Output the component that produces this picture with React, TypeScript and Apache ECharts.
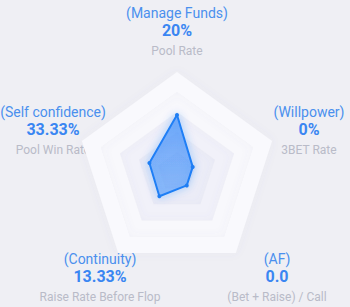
import React, { useEffect, useRef } from "react";
import * as echarts from "echarts";

const indicatorNames = ["(Manage Funds)", "(Self confidence)", "(Continuity)", "(AF)", "(Willpower)"];
const displayValues = ["20%", "33.33%", "13.33%", "0.0", "0%"];
const subtitles = ["Pool Rate", "Pool Win Rate", "Raise Rate Before Flop", "(Bet + Raise) / Call", "3BET Rate"];
const scores = [57, 29, 30, 16.6, 16.5];
const indicatorMax = 100;

const labelPos: [number, number][] = [
  [177, 4],
  [53, 103],
  [100, 250],
  [277, 250],
  [309, 103],
];

export default function App() {
  const ref = useRef<HTMLDivElement>(null);
  useEffect(() => {
    if (!ref.current) return;
    const chart = echarts.init(ref.current, null, { renderer: "svg" });
    const graphics = indicatorNames.map((n, i) => ({
      type: "text",
      x: labelPos[i][0],
      y: labelPos[i][1],
      style: {
        text: `{n|${n}}\n{v|${displayValues[i]}}\n{s|${subtitles[i]}}`,
        align: "center",
        verticalAlign: "top",
        rich: {
          n: { fontSize: 14, fill: "#4a90ee", lineHeight: 17, fontFamily: "Roboto, sans-serif", align: "center" },
          v: { fontSize: 16, fontWeight: "bold", fill: "#3a86f2", lineHeight: 19, fontFamily: "'Liberation Sans Narrow', Roboto, sans-serif", align: "center" },
          s: { fontSize: 12, fill: "#b9bbc8", lineHeight: 21, fontFamily: "Roboto, sans-serif", align: "center" },
        },
      },
    }));
    chart.setOption({
      animation: false,
      backgroundColor: "#efeff4",
      radar: {
        center: [177, 172],
        radius: 100,
        shape: "polygon",
        splitNumber: 5,
        indicator: indicatorNames.map((n) => ({ name: n, max: indicatorMax, min: 0 })),
        axisName: { show: false },
        axisLine: { show: false },
        axisTick: { show: false },
        axisLabel: { show: false },
        splitLine: { show: false },
        splitArea: {
          show: true,
          areaStyle: {
            color: ["#e8e9f6", "#ecedf7", "#f1f1f9", "#f8f8fc", "#f9f9fd"],
            shadowColor: "rgba(120,120,170,0.05)",
            shadowBlur: 10,
          },
        },
      },
      graphic: graphics,
      series: [
        {
          type: "radar",
          symbol: "circle",
          symbolSize: 4,
          data: [
            {
              value: scores,
              itemStyle: { color: "#1f7ef3" },
              lineStyle: { color: "#1f7ef3", width: 2, shadowColor: "rgba(30,120,255,0.5)", shadowBlur: 8 },
              areaStyle: {
                color: new echarts.graphic.LinearGradient(0, 0, 0, 1, [
                  { offset: 0, color: "rgba(40,130,250,0.8)" },
                  { offset: 1, color: "rgba(40,130,250,0.55)" },
                ]),
                shadowColor: "rgba(30,120,255,0.35)",
                shadowBlur: 10,
              },
            },
          ],
        },
      ],
    });
    return () => chart.dispose();
  }, []);
  return <div ref={ref} style={{ position: "fixed", left: 0, top: 0, width: 350, height: 307 }} />;
}
